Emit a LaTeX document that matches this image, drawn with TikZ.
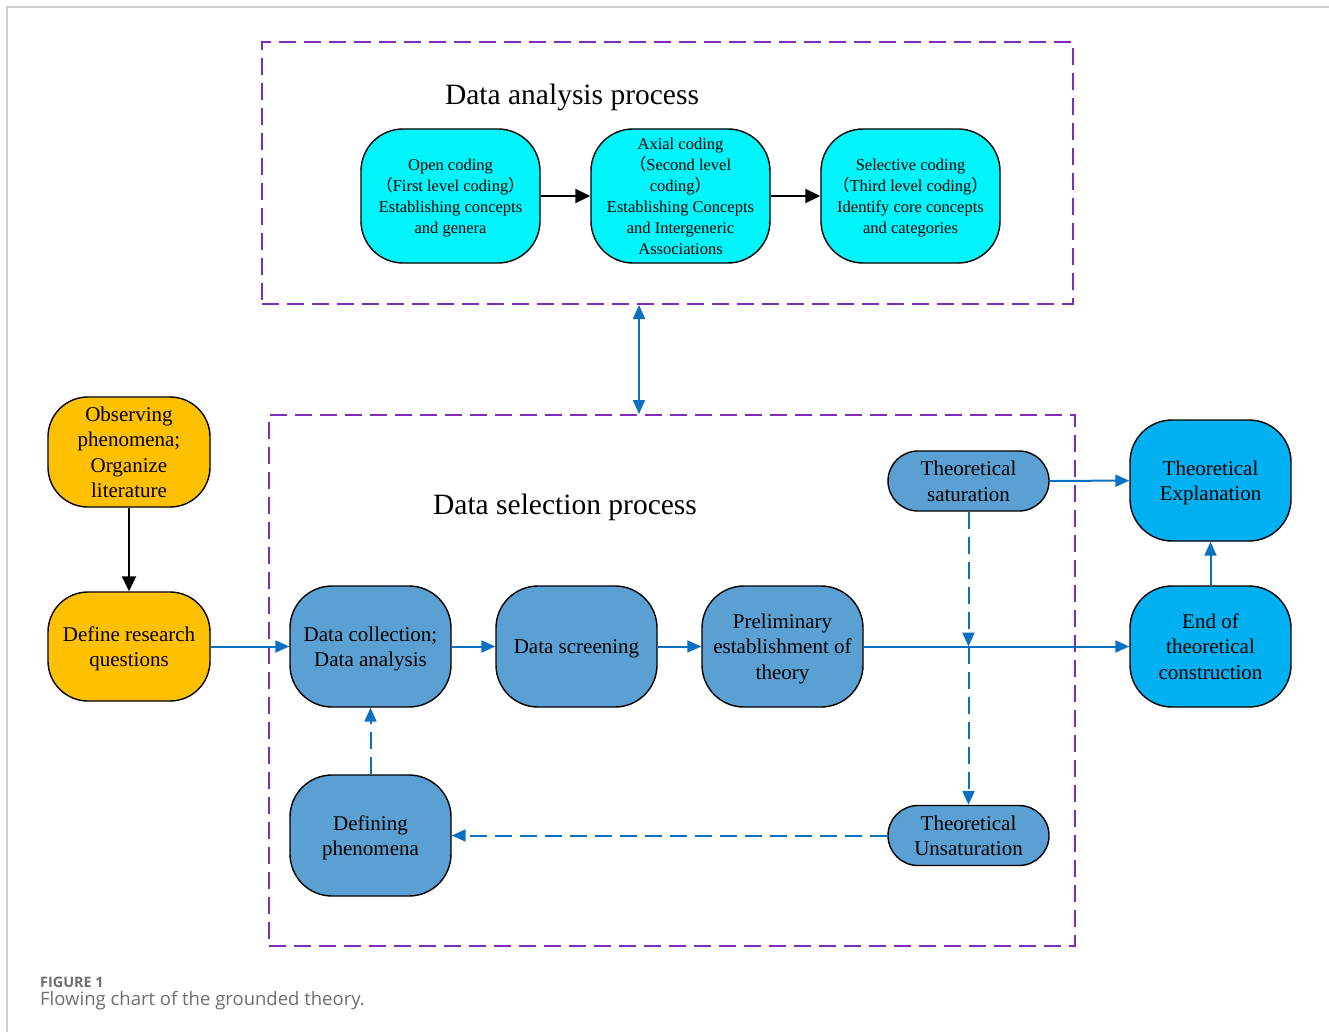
\documentclass[tikz,border=0pt]{standalone}
\usepackage{fontspec}
\setmainfont{Liberation Serif}
\newfontfamily\capfont{Open Sans}
\newfontfamily\cjkfont{Noto Sans CJK SC}
\usetikzlibrary{arrows.meta}
\definecolor{cyanc}{RGB}{0,245,250}
\definecolor{orangec}{RGB}{255,192,0}
\definecolor{midblue}{RGB}{91,160,211}
\definecolor{brightblue}{RGB}{0,176,240}
\definecolor{linkblue}{RGB}{10,112,196}
\definecolor{purplec}{RGB}{128,44,184}
\definecolor{framegray}{RGB}{205,205,205}
\definecolor{capgray}{RGB}{110,110,110}
\newcommand{\lp}{{\cjkfont （}}
\newcommand{\rp}{{\cjkfont ）}}
\tikzset{
  basenode/.style={draw=black, line width=1.4pt, rounded corners=42pt, align=center, inner sep=0pt, text=black, text depth=0pt},
  topnode/.style={basenode, fill=cyanc, minimum width=179pt, minimum height=134pt, font=\fontsize{16.5}{21}\selectfont},
  orangenode/.style={basenode, fill=orangec, minimum width=162pt, minimum height=110pt, rounded corners=40pt, font=\fontsize{21}{25.5}\selectfont},
  bluenode/.style={basenode, fill=midblue, minimum width=161pt, minimum height=121pt, font=\fontsize{21}{25.5}\selectfont},
  brightnode/.style={basenode, fill=brightblue, minimum width=161pt, minimum height=121pt, font=\fontsize{21}{25.5}\selectfont},
  pillnode/.style={basenode, fill=midblue, minimum width=161pt, minimum height=60pt, rounded corners=30pt, font=\fontsize{21}{25.5}\selectfont},
  dashbox/.style={draw=purplec, line width=2pt, dash pattern=on 17pt off 8pt, inner sep=0pt},
  heading/.style={font=\fontsize{29.5}{34}\selectfont, inner sep=0pt, text depth=0pt},
  blackarrow/.style={draw=black, line width=2pt, -{Triangle[length=15pt,width=14pt]}},
  bluearrow/.style={draw=linkblue, line width=2pt, -{Triangle[length=14pt,width=12pt]}},
  bluedash/.style={bluearrow, dash pattern=on 17pt off 8pt},
  bluedouble/.style={draw=linkblue, line width=2pt, {Triangle[length=14pt,width=12pt]}-{Triangle[length=14pt,width=12pt]}},
}
\begin{document}
\begin{tikzpicture}[x=1pt,y=-1pt]
\useasboundingbox (0,0) rectangle (1329,1032);
\fill[white] (0,0) rectangle (1329,1032);
% frame
\draw[framegray, line width=1.5pt] (7,1032) -- (7,7) -- (1329,7);

% dashed boxes
\node[dashbox, minimum width=811pt, minimum height=262pt] (topbox) at (667.5,173) {};
\node[dashbox, minimum width=806pt, minimum height=531pt] (botbox) at (672,680.5) {};

\node[heading] (th) at (572,94) {Data analysis process};
\node[heading] (bh) at (565,504) {Data selection process};

% top nodes
\node[topnode] (open) at (450.5,196) {Open coding\\\lp First level coding\rp\\Establishing concepts\\and genera};
\node[topnode] (axial) at (680.5,196) {Axial coding\\\lp Second level\\coding\rp\\Establishing Concepts\\and Intergeneric\\Associations};
\node[topnode] (sel) at (910.5,196) {Selective coding\\\lp Third level coding\rp\\Identify core concepts\\and categories};

\draw[blackarrow] (open) -- (axial);
\draw[blackarrow] (axial) -- (sel);

% left nodes
\node[orangenode] (obs) at (129,452) {Observing\\phenomena;\\Organize\\literature};
\node[orangenode, minimum height=109pt] (def) at (129,646.5) {Define research\\questions};
\draw[blackarrow] (obs) -- (def);

% blue nodes
\node[bluenode] (coll) at (370.5,646.5) {Data collection;\\Data analysis};
\node[bluenode] (scr) at (576.5,646.5) {Data screening};
\node[bluenode] (pre) at (782.5,646.5) {Preliminary\\establishment of\\theory};
\node[bluenode] (defph) at (370.5,835.5) {Defining\\phenomena};
\node[pillnode] (sat) at (968.5,481) {Theoretical\\saturation};
\node[pillnode] (unsat) at (968.5,835.5) {Theoretical\\Unsaturation};
\node[brightnode] (expl) at (1210.5,480.5) {Theoretical\\Explanation};
\node[brightnode] (endc) at (1210.5,646.5) {End of\\theoretical\\construction};

% connectors
\draw[bluearrow] (def) -- (coll);
\draw[bluearrow] (coll) -- (scr);
\draw[bluearrow] (scr) -- (pre);
\draw[bluearrow] (pre) -- (endc);
\draw[bluearrow] (sat) -- (expl);
\draw[bluearrow] (endc) -- (expl);
\coordinate (jn) at (sat.south |- pre.east);
\draw[bluedash] (sat) -- (jn);
\draw[bluedash] (jn) -- (unsat);
\draw[bluedash] (unsat) -- (defph);
\draw[bluedash] (defph) -- (coll);
\coordinate (ax) at (639,0);
\draw[bluedouble] (topbox.south -| ax) -- (botbox.north -| ax);

% caption
\node[anchor=west, inner sep=0pt, text=capgray, font=\capfont\bfseries\fontsize{14.4}{17}\selectfont] (figlab) at (40,982) {FIGURE 1};
\node[anchor=west, inner sep=0pt, text=capgray, font=\capfont\fontsize{18.5}{22}\selectfont] (figcap) at (40,1001) {Flowing chart of the grounded theory.};
\end{tikzpicture}
\end{document}
